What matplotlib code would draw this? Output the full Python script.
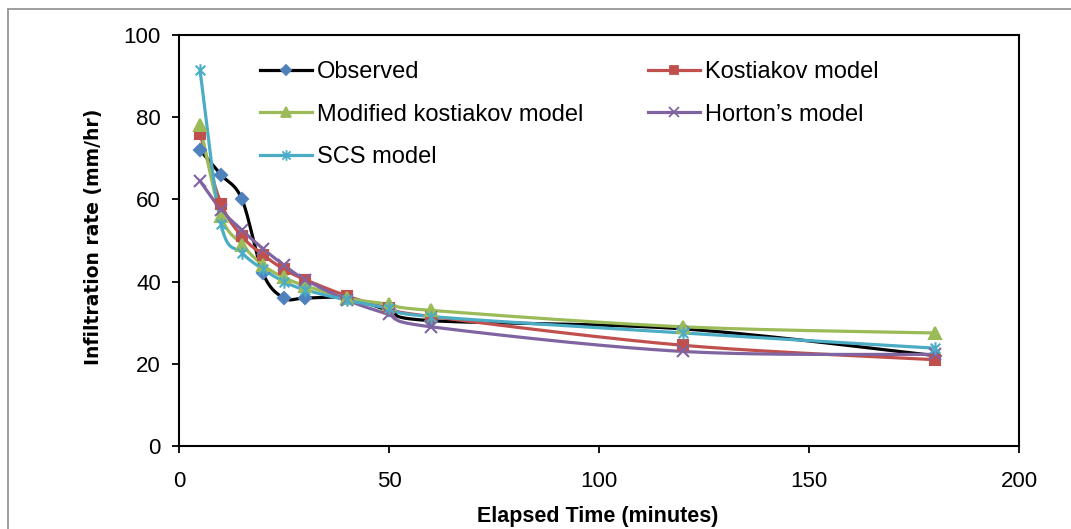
import numpy as np
import matplotlib
matplotlib.use("Agg")
import matplotlib.pyplot as plt
from matplotlib.path import Path
from matplotlib.patches import Rectangle

time_min = [5, 10, 15, 20, 25, 30, 40, 50, 60, 120, 180]
observed = [72, 66, 60, 42, 36, 36, 36, 33, 30.5, 28.5, 22]
kostiakov = [76, 59, 51, 46.5, 43, 40.5, 36.5, 33.5, 31.5, 24.5, 21]
mod_kostiakov = [78, 56, 49, 44, 41, 39, 36, 34.5, 33, 29, 27.5]
horton = [64.5, 57.5, 52.5, 48, 44, 40.5, 35.5, 32, 29, 23, 22.3]
scs = [91.5, 54, 47, 43, 40, 38, 35.5, 33.5, 31.5, 27.5, 23.8]

series_names = ["Observed", "Kostiakov model", "Modified kostiakov model",
                "Horton\u2019s model", "SCS model"]

plt.rcParams['font.family'] = ['Liberation Sans', 'DejaVu Sans']

fig = plt.figure(figsize=(10.71, 5.29), dpi=100)
ax = fig.add_axes([179/1071, 1-446/529, (1019-179)/1071, (446-35)/529])

# outer chart border
fig.patches.append(Rectangle((8/1071, -0.1), 1.2, 1-9/529+0.1, transform=fig.transFigure,
                             fill=False, edgecolor='#8c8c8c', linewidth=1.2))

XS, YS = 4.2, 4.11  # px per unit for smoothing in screen space


def smooth(x, y, n=40):
    px = np.asarray(x, float) * XS
    py = np.asarray(y, float) * YS
    P = np.column_stack([px, py])
    Pe = np.vstack([P[0], P, P[-1]])
    out = []
    for i in range(len(P) - 1):
        p0, p1, p2, p3 = Pe[i], Pe[i+1], Pe[i+2], Pe[i+3]
        c1 = p1 + (p2 - p0) / 6.0
        c2 = p2 - (p3 - p1) / 6.0
        t = np.linspace(0, 1, n)[:, None]
        b = ((1-t)**3)*p1 + 3*((1-t)**2)*t*c1 + 3*(1-t)*(t**2)*c2 + (t**3)*p2
        out.append(b if i == 0 else b[1:])
    out = np.vstack(out)
    return out[:, 0] / XS, out[:, 1] / YS


star = Path([(-1, -1), (1, 1), (-1, 1), (1, -1), (0, -1.3), (0, 1.3)],
            [Path.MOVETO, Path.LINETO, Path.MOVETO, Path.LINETO, Path.MOVETO, Path.LINETO])

styles = [
    (observed, 'black', '#4F81BD', 'D', 6.5),
    (kostiakov, '#C0504D', '#C0504D', 's', 7.5),
    (mod_kostiakov, '#9BBB59', '#9BBB59', '^', 8.5),
    (horton, '#8064A2', '#8064A2', 'x', 8),
    (scs, '#4BACC6', '#4BACC6', star, 9),
]

handles = []
for (vals, lc, mc, mk, ms), name in zip(styles, series_names):
    sx, sy = smooth(time_min, vals)
    ax.plot(sx, sy, color=lc, lw=2.3, solid_capstyle='round', zorder=2)
    ax.plot(time_min, vals, linestyle='none', marker=mk, markersize=ms,
            color=mc, markerfacecolor=mc, markeredgecolor=mc, markeredgewidth=1.5, zorder=3)
    h, = ax.plot([], [], color=lc, lw=2.3, marker=mk, markersize=ms*0.85,
                 markerfacecolor=mc, markeredgecolor=mc, markeredgewidth=1.3, label=name)
    handles.append(h)

order = [0, 2, 4, 1, 3]
ax.legend([handles[i] for i in order], [series_names[i] for i in order],
          ncol=2, frameon=False, loc='upper left', bbox_to_anchor=(0.0964, 0.937),
          fontsize=17, handlelength=2.2, handletextpad=0.2, labelspacing=0.88,
          columnspacing=2.75, borderaxespad=0, borderpad=0)

ax.set_xlim(0, 200)
ax.set_ylim(0, 100)
ax.set_xticks([0, 50, 100, 150, 200])
ax.set_yticks([0, 20, 40, 60, 80, 100])
ax.tick_params(direction='out', length=5, width=1.3, labelsize=16, colors='black')
ax.tick_params(axis='y', pad=8)
ax.tick_params(axis='x', pad=13)
for s in ax.spines.values():
    s.set_linewidth(1.5)
    s.set_color('black')

ax.set_xlabel("Elapsed Time (minutes)", fontsize=15.5, fontweight='bold')
ax.set_ylabel("Infiltration rate (mm/hr)", fontsize=13.5, fontweight='bold',
              family=['DejaVu Sans'])
ax.xaxis.set_label_coords((598 - 179) / 840, (446 - 506) / 411)
ax.yaxis.set_label_coords((103 - 179) / 840, (446 - 237) / 411)

fig.savefig("out.png", dpi=100)
